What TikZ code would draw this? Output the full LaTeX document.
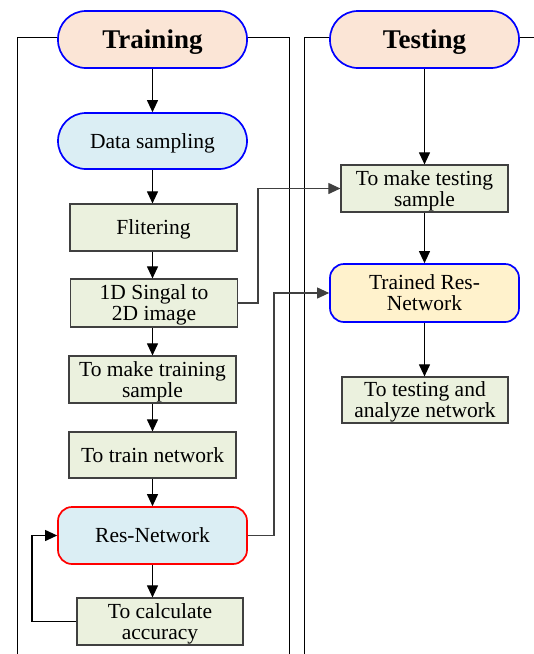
\documentclass[tikz,border=0pt]{standalone}
\usepackage{fontspec}
\setmainfont{Liberation Serif}
\usetikzlibrary{arrows.meta}
\definecolor{peach}{HTML}{FBE5D6}
\definecolor{skyfill}{HTML}{DBEEF4}
\definecolor{sage}{HTML}{EBF1DE}
\definecolor{cream}{HTML}{FFF2CC}
\definecolor{edgegray}{HTML}{404040}
\tikzset{
  pill/.style={draw=blue, line width=1.7pt, rounded corners=28pt, align=center,
    minimum width=189pt, minimum height=57pt, inner sep=0pt, text depth=0pt},
  title/.style={pill, fill=peach, font=\fontsize{27}{27}\selectfont\bfseries},
  stepbox/.style={draw=edgegray, line width=1.2pt, fill=sage, align=center,
    minimum width=167pt, minimum height=47pt, inner sep=0pt, text depth=0pt,
    font=\fontsize{21.5}{21}\selectfont},
  roundbox/.style={line width=1.7pt, rounded corners=14pt, align=center,
    minimum width=189pt, minimum height=57pt, inner sep=0pt, text depth=0pt,
    font=\fontsize{21.5}{21}\selectfont},
  flow/.style={black, line width=1.05pt, -{Triangle[length=12pt,width=11pt]}},
  cross/.style={draw=black!75, line width=1.05pt, -{Triangle[length=12pt,width=11pt]}},
  frame/.style={black, line width=0.95pt}
}
\begin{document}
\begin{tikzpicture}[x=1pt,y=-1pt]
\useasboundingbox (0,0) rectangle (534,654);

% swimlane frames
\draw[frame] (58,37) -- (17,37) -- (17,660);
\draw[frame] (247,37) -- (289,37) -- (289,660);
\draw[frame] (330,37) -- (304,37) -- (304,660);
\draw[frame] (519,37) -- (540,37);

% training lane
\node[title] (train) at (152.5,39.5) {Training};
\node[pill, fill=skyfill, minimum height=56pt, font=\fontsize{21.5}{21}\selectfont] (data) at (152.5,141) {Data sampling};
\node[stepbox] (filt) at (153.5,227.5) {Flitering};
\node[stepbox, minimum height=48pt] (conv) at (154,303) {1D Singal to\\2D image};
\node[stepbox] (mktrain) at (152.5,379.5) {To make training\\sample};
\node[stepbox, minimum height=46pt] (trainnet) at (152.5,455) {To train network};
\node[roundbox, draw=red, fill=skyfill] (res) at (152.5,535.5) {Res-Network};
\node[stepbox, minimum width=166pt] (calc) at (160,621.5) {To calculate\\accuracy};

% testing lane
\node[title] (test) at (424.5,39.5) {Testing};
\node[stepbox] (mktest) at (424.5,188.5) {To make testing\\sample};
\node[roundbox, draw=blue, fill=cream, minimum height=58pt] (trained) at (424.5,293) {Trained Res-\\Network};
\node[stepbox, minimum width=166pt, minimum height=46pt] (analyze) at (425,400) {To testing and\\analyze network};

% training flow
\draw[flow] (train) -- (data);
\draw[flow] (data) -- (data |- filt.north);
\draw[flow] (filt.south -| data) -- (data |- conv.north);
\draw[flow] (conv.south -| data) -- (data |- mktrain.north);
\draw[flow] (mktrain.south -| data) -- (data |- trainnet.north);
\draw[flow] (trainnet.south -| data) -- (res);
\draw[flow] (res) -- (res |- calc.north);
\draw[flow] (calc.west) -- (32,621.5) |- (res.west);

% testing flow
\draw[flow] (test) -- (mktest);
\draw[flow] (mktest) -- (trained);
\draw[flow] (trained) -- (trained |- analyze.north);

% links between lanes
\draw[cross] (conv.east) -- (258,303) |- (mktest.west);
\draw[cross] (res.east) -- (274,535.5) |- (trained.west);
\end{tikzpicture}
\end{document}
